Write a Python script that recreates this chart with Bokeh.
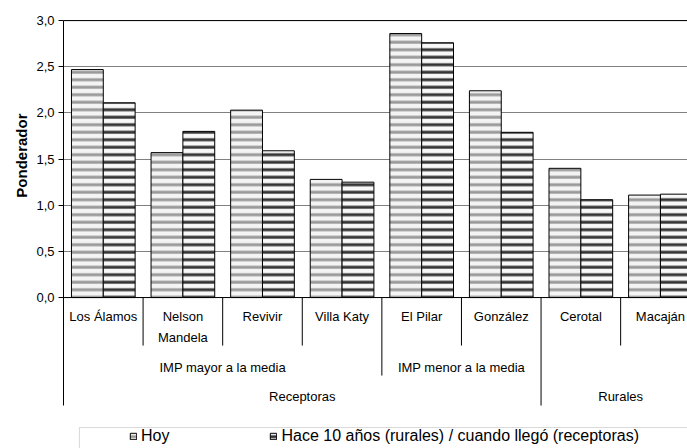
import math
from bokeh.plotting import figure
from bokeh.models import (Range1d, FixedTicker, CustomJSTickFormatter, Title, Legend,
                          LegendItem, BoxAnnotation, ColumnDataSource)
from bokeh.core.properties import value
from bokeh.embed import file_html
from bokeh.resources import INLINE

# ---- data ----
categories = ["Los Álamos", "Nelson\nMandela", "Revivir", "Villa Katy",
              "El Pilar", "González", "Cerotal", "Macaján"]
hoy = [2.47, 1.57, 2.03, 1.28, 2.86, 2.24, 1.40, 1.11]
hace = [2.11, 1.80, 1.59, 1.25, 2.76, 1.79, 1.06, 1.12]
subgroup_labels = ["IMP mayor a la media", "IMP menor a la media", ""]
subgroup_sizes = [4, 2, 2]
group_labels = ["Receptoras", "Rurales"]
group_sizes = [6, 2]
y_ticks = [0.0, 0.5, 1.0, 1.5, 2.0, 2.5, 3.0]
series_names = ["Hoy", "Hace 10 años (rurales) / cuando llegó (receptoras)"]
y_title = "Ponderador"

FONT = "Liberation Sans"
n = len(categories)

p = figure(width=687, height=448, output_backend="svg", toolbar_location=None,
           x_range=Range1d(0, 7.84), y_range=Range1d(-1.635, 3.012),
           min_border_left=63, min_border_right=0, min_border_top=19, min_border_bottom=0)
p.xaxis.visible = False
p.xgrid.visible = False
p.outline_line_color = None
p.background_fill_color = "white"
p.border_fill_color = "white"

yax = p.yaxis[0]
yax.ticker = FixedTicker(ticks=y_ticks)
yax.formatter = CustomJSTickFormatter(code="return tick.toFixed(1).replace('.', ',');")
yax.bounds = (-1.17, 3.0)
yax.major_tick_in = 0
yax.major_tick_out = 5
yax.minor_tick_line_color = None
yax.axis_line_color = "black"
yax.major_tick_line_color = "black"
yax.major_label_text_font = FONT
yax.major_label_text_font_size = "13px"
yax.major_label_text_color = "black"
yax.major_label_standoff = 4

p.ygrid.ticker = FixedTicker(ticks=y_ticks)
p.ygrid.grid_line_color = "#808080"
p.ygrid.grid_line_width = 1

# ---- bars ----
idx = list(range(n))
src = ColumnDataSource(dict(
    x_hoy=[i + 0.3 for i in idx], x_hace=[i + 0.7 for i in idx], hoy=hoy, hace=hace))
r1 = p.vbar(x="x_hoy", top="hoy", bottom=0, width=0.4, source=src,
            fill_color="#f4f4f4", line_color="black", line_width=1,
            hatch_pattern="horizontal_line", hatch_color="#9a9a9a",
            hatch_weight=3, hatch_scale=7.5)
r2 = p.vbar(x="x_hace", top="hace", bottom=0, width=0.4, source=src,
            fill_color="#f8f8f8", line_color="black", line_width=1,
            hatch_pattern="horizontal_line", hatch_color="#353535",
            hatch_weight=3, hatch_scale=7.5)

# axis line at 0 and top border at 3
p.segment(x0=[0, 0], x1=[n, n], y0=[0, 3.0], y1=[0, 3.0], line_color="black", line_width=1)

# ---- hierarchical category axis ----
depth1, depth2, depth3 = -0.52, -0.845, -1.17
sub_bounds = set()
acc = 0
for s in subgroup_sizes:
    acc += s
    sub_bounds.add(acc)
grp_bounds = set()
acc = 0
for s in group_sizes:
    acc += s
    grp_bounds.add(acc)
sx, sy1 = [], []
for b in range(1, n + 1):
    d = depth1
    if b in sub_bounds and b < n:
        d = depth2
    if b in grp_bounds:
        d = depth3
    sx.append(b)
    sy1.append(d)
p.segment(x0=sx, x1=sx, y0=[0] * len(sx), y1=sy1, line_color="black", line_width=1)

p.text(x=[i + 0.5 for i in idx], y=[-0.12] * n, text=categories,
       text_font=value(FONT), text_font_size="13px", text_align="center",
       text_baseline="top", text_line_height=1.45, text_color="black")

sub_x, sub_t = [], []
acc = 0
for lab, s in zip(subgroup_labels, subgroup_sizes):
    if lab:
        sub_x.append(acc + s / 2)
        sub_t.append(lab)
    acc += s
p.text(x=sub_x, y=[-0.758] * len(sub_x), text=sub_t,
       text_font=value(FONT), text_font_size="13px", text_align="center",
       text_baseline="middle", text_color="black")

grp_x = []
acc = 0
for s in group_sizes:
    grp_x.append(acc + s / 2)
    acc += s
p.text(x=grp_x, y=[-1.072] * len(grp_x), text=group_labels,
       text_font=value(FONT), text_font_size="13px", text_align="center",
       text_baseline="middle", text_color="black")

# ---- y title ----
p.add_layout(Title(text=y_title, align="right", offset=94, standoff=7,
                   text_font=FONT, text_font_size="15px", text_font_style="bold",
                   text_color="black"), "left")

# ---- legend ----
p.add_layout(BoxAnnotation(left=0.2, right=9, top=-1.408, bottom=-3,
                           fill_alpha=0, line_color="#808080", line_width=1))
legend = Legend(items=[LegendItem(label=series_names[0], renderers=[r1]),
                       LegendItem(label=series_names[1], renderers=[r2])],
                orientation="horizontal", location=(66, 3),
                padding=0, margin=0, spacing=100, label_standoff=4,
                glyph_width=8, glyph_height=8, label_height=14,
                label_text_font=FONT, label_text_font_size="16px",
                label_text_color="black",
                border_line_color=None, background_fill_alpha=0)
p.add_layout(legend)

open("out.html", "w").write(file_html(p, INLINE))
